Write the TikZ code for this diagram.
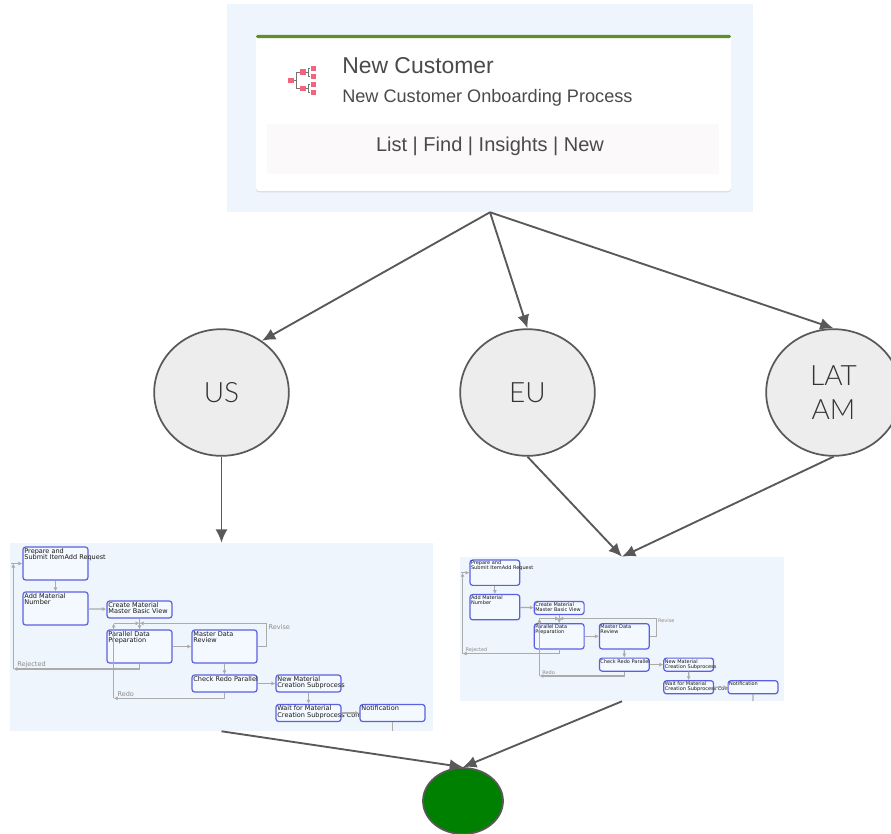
\documentclass[tikz,border=0pt]{standalone}
\usepackage{fontspec}
\setmainfont{Liberation Sans}
\newfontfamily\boxfont{DejaVu Sans}
\newfontfamily\thinfont{Lato Light}
\usetikzlibrary{arrows.meta, shapes.geometric, shadows}
\definecolor{mybg}{HTML}{EFF5FC}
\definecolor{myboxfill}{HTML}{F3F9FF}
\definecolor{myblue}{HTML}{5A60E0}
\definecolor{myline}{HTML}{595959}
\definecolor{myflow}{HTML}{ABABAB}
\definecolor{mytext}{HTML}{4A4A4A}
\definecolor{mystrip}{HTML}{FCF9FA}
\definecolor{mybar}{HTML}{5F8F2A}
\definecolor{myred}{HTML}{F2647C}
\colorlet{mygray1}{black!7}

\begin{document}
\begin{tikzpicture}[
        x=0.75pt,
        y=-0.75pt,
        panel/.style={
            rectangle,
            fill=mybg,
            inner sep=0pt,
        },
        region/.style={
            draw=myline,
            ellipse,
            line width=1.3pt,
            fill=mygray1,
            minimum width=101pt,
            minimum height=95pt,
            inner sep=0pt,
            align=center,
            text=black!80,
            font=\thinfont\fontsize{21}{25.5}\selectfont,
        },
        box/.style={
            draw=myblue,
            rectangle,
            rounded corners=2pt,
            fill=myboxfill,
            line width=0.9pt,
            minimum width=48.75pt,
            inner sep=0pt,
        },
        tall/.style={
            box,
            minimum height=24.75pt,
        },
        flat/.style={
            box,
            minimum height=12.75pt,
        },
        boxtext/.style={
            label={[anchor=north west, align=left, inner sep=1.3pt, text=black!90,
                font=\boxfont\fontsize{4.9}{4.9}\selectfont]north west:{#1}},
        },
        flow/.style={
            draw=myflow,
            line width=0.9pt,
            ->,
            >={Latex[length=3pt,width=3pt]},
        },
        tag/.style={
            anchor=west,
            inner sep=0pt,
            text=black!45,
            font=\boxfont\fontsize{4.9}{4.9}\selectfont,
        },
        square/.style={
            rectangle,
            fill=myred,
            minimum size=4.2pt,
            inner sep=0pt,
        },
        twig/.style={
            draw=black!55,
            line width=0.7pt,
        },
    ]
    \useasboundingbox (0, 0) rectangle (891, 833);

    % top card
    \node[panel, minimum width=394.5pt, minimum height=156pt] (top) at (490, 108) {};
    \node[rectangle, fill=white, rounded corners=2pt, inner sep=0pt,
        minimum width=356pt, minimum height=117pt,
        drop shadow={opacity=0.2, shadow xshift=0pt, shadow yshift=-1pt}] (card) at (493.5, 113) {};
    \node[rectangle, fill=mybar, rounded corners=1pt, inner sep=0pt, minimum width=356pt, minimum height=2.4pt] (bar) at (493.5, 36.5) {};
    \node[rectangle, fill=mystrip, inner sep=0pt, minimum width=339pt, minimum height=37.5pt] (strip) at (493, 149) {};
    \node[anchor=west, inner sep=0pt, text=mytext, font=\fontsize{17.2}{20}\selectfont] (title) at (342, 66) {New Customer};
    \node[anchor=west, inner sep=0pt, text=mytext, font=\fontsize{13.6}{16}\selectfont] (subtitle) at (342, 97.5) {New Customer Onboarding Process};
    \node[inner sep=0pt, text=mytext, font=\fontsize{15}{16}\selectfont] (links) at (490, 146) {List | Find | Insights | New};

    % icon
    \node[square] (i0) at (291, 80.5) {};
    \node[square] (i1) at (302.7, 72) {};
    \node[square] (i2) at (302.7, 88.5) {};
    \node[square] (i3) at (313.5, 68.5) {};
    \node[square] (i4) at (313.5, 76.5) {};
    \node[square] (i5) at (313.5, 84.5) {};
    \node[square] (i6) at (313.5, 92.5) {};
    \coordinate (j0) at (296.5, 80.5);
    \coordinate (j1) at (308, 72);
    \coordinate (j2) at (308, 88.5);
    \draw[twig] (i0.east) -- (j0);
    \draw[twig] (j0) |- (i1.west);
    \draw[twig] (j0) |- (i2.west);
    \draw[twig] (i1.east) -- (j1);
    \draw[twig] (i2.east) -- (j2);
    \draw[twig] (j1) |- (i3.west);
    \draw[twig] (j1) |- (i4.west);
    \draw[twig] (j2) |- (i5.west);
    \draw[twig] (j2) |- (i6.west);

    % regions
    \node[region] (us) at (221.5, 392.5) {US};
    \node[region] (eu) at (527.5, 392.5) {EU};
    \node[region] (lat) at (833.5, 392.5) {LAT\\AM};

    % first process
    \node[panel, minimum width=317.25pt, minimum height=141pt] (pu) at (221.5, 637) {};
    \begin{scope}[shift={(10, 543)}, transform shape]
        \node[tall, boxtext={Prepare and\\Submit ItemAdd Request}] (u0) at (45.5, 20.5) {};
        \node[tall, boxtext={Add Material\\Number}] (u1) at (45.5, 65.5) {};
        \node[flat, boxtext={Create Material\\Master Basic View}] (u2) at (129.5, 66.5) {};
        \node[tall, boxtext={Parallel Data\\Preparation}] (u3) at (129.5, 103.5) {};
        \node[tall, boxtext={Master Data\\Review}] (u4) at (214.5, 103.5) {};
        \node[flat, boxtext={Check Redo Parallel}] (u5) at (214.5, 140.5) {};
        \node[flat, boxtext={New Material\\Creation Subprocess}] (u6) at (298.5, 140.5) {};
        \node[flat, boxtext={Wait for Material\\Creation Subprocess Com}] (u7) at (298.5, 170) {};
        \node[flat, boxtext={Notification}] (u8) at (382.5, 170) {};

        \coordinate (uj) at (129.5, 80.3);
        \coordinate (urv) at (256.7, 80.3);
        \coordinate (urd) at (103.7, 155.3);
        \coordinate (utl) at (103.7, 80.3);
        \coordinate (urj) at (3.3, 126);
        \coordinate (urt) at (3.3, 20.5);
        \coordinate (ust) at (1, 20.5);
        \coordinate (uend) at (382.5, 188);

        \draw[flow] (u0) -- (u1);
        \draw[flow] (u1) -- (u2);
        \draw[flow] (u2) -- (u3);
        \draw[flow] (u3) -- (u4);
        \draw[flow] (u4) -- (u5);
        \draw[flow] (u5) -- (u6);
        \draw[flow] (u6) -- (u7);
        \draw[flow] (u7) -- (u8);
        \draw[flow, -] (u8) -- (uend);
        \draw[flow] (u4.east) -| (urv) -- (uj);
        \draw[flow] (u5.south) |- (urd);
        \draw[flow] (urd) -- (utl);
        \draw[flow] (utl) -- (uj);
        \draw[flow] (u3.south) |- (urj);
        \draw[flow] (urj) -- (urt);
        \draw[flow] (ust) -- (u0.west);

        \node[tag] (urvt) at (258.3, 83.7) {Revise};
        \node[tag] (urjt) at (7, 122) {Rejected};
        \node[tag] (urdt) at (107.3, 151.3) {Redo};
    \end{scope}

    % second process
    \node[panel, minimum width=243pt, minimum height=108pt] (pe) at (622, 629) {};
    \begin{scope}[shift={(460, 557)}, scale=0.766, transform shape]
        \node[tall, boxtext={Prepare and\\Submit ItemAdd Request}] (e0) at (45.5, 20.5) {};
        \node[tall, boxtext={Add Material\\Number}] (e1) at (45.5, 65.5) {};
        \node[flat, boxtext={Create Material\\Master Basic View}] (e2) at (129.5, 66.5) {};
        \node[tall, boxtext={Parallel Data\\Preparation}] (e3) at (129.5, 103.5) {};
        \node[tall, boxtext={Master Data\\Review}] (e4) at (214.5, 103.5) {};
        \node[flat, boxtext={Check Redo Parallel}] (e5) at (214.5, 140.5) {};
        \node[flat, boxtext={New Material\\Creation Subprocess}] (e6) at (298.5, 140.5) {};
        \node[flat, boxtext={Wait for Material\\Creation Subprocess Com}] (e7) at (298.5, 170) {};
        \node[flat, boxtext={Notification}] (e8) at (382.5, 170) {};

        \coordinate (ej) at (129.5, 80.3);
        \coordinate (erv) at (256.7, 80.3);
        \coordinate (erd) at (103.7, 155.3);
        \coordinate (etl) at (103.7, 80.3);
        \coordinate (erj) at (3.3, 126);
        \coordinate (ert) at (3.3, 20.5);
        \coordinate (est) at (1, 20.5);
        \coordinate (eend) at (382.5, 188);

        \draw[flow] (e0) -- (e1);
        \draw[flow] (e1) -- (e2);
        \draw[flow] (e2) -- (e3);
        \draw[flow] (e3) -- (e4);
        \draw[flow] (e4) -- (e5);
        \draw[flow] (e5) -- (e6);
        \draw[flow] (e6) -- (e7);
        \draw[flow] (e7) -- (e8);
        \draw[flow, -] (e8) -- (eend);
        \draw[flow] (e4.east) -| (erv) -- (ej);
        \draw[flow] (e5.south) |- (erd);
        \draw[flow] (erd) -- (etl);
        \draw[flow] (etl) -- (ej);
        \draw[flow] (e3.south) |- (erj);
        \draw[flow] (erj) -- (ert);
        \draw[flow] (est) -- (e0.west);

        \node[tag] (ervt) at (258.3, 83.7) {Revise};
        \node[tag] (erjt) at (7, 122) {Rejected};
        \node[tag] (erdt) at (107.3, 151.3) {Redo};
    \end{scope}

    \node[draw=myline, ellipse, line width=1.3pt, fill=green!50!black, minimum width=60pt, minimum height=49.5pt, inner sep=0pt] (end) at (463, 801) {};

    \begin{scope}[->, >={Latex[length=10pt,width=9pt]}, draw=myline, line width=1.4pt]
        \draw (top.south) -- (us.52);
        \draw (top.south) -- (eu.north);
        \draw (top.south) -- (lat.north);
        \draw (us.south) -- (pu.north);
        \draw (eu.south) -- (pe.north);
        \draw (lat.south) -- (pe.north);
        \draw (pu.south) -- (end.north);
        \draw (pe.south) -- (end.north);
    \end{scope}
\end{tikzpicture}
\end{document}
